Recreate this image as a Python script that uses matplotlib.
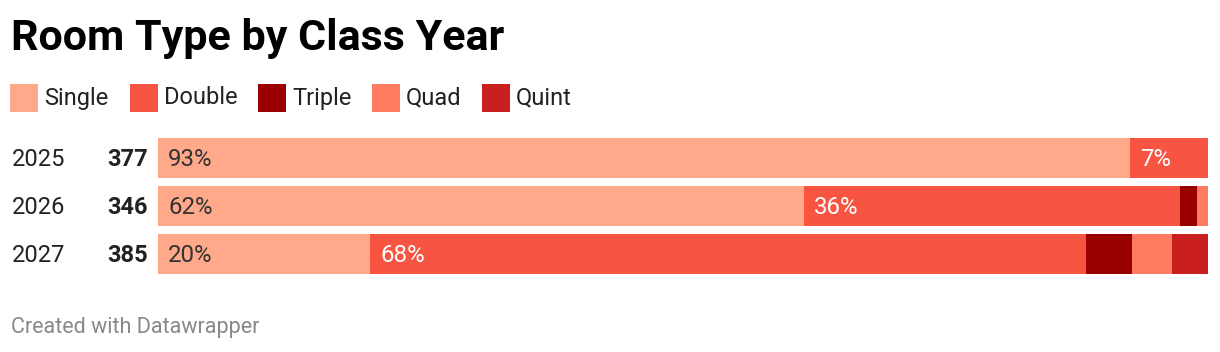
import matplotlib.pyplot as plt
import matplotlib.transforms as mtransforms
from matplotlib.patches import Rectangle
import numpy as np

plt.rcParams['font.family'] = ['Roboto', 'DejaVu Sans']

years = ['2025', '2026', '2027']
totals = [377, 346, 385]
room_types = ['Single', 'Double', 'Triple', 'Quad', 'Quint']
# percentages per class year
single = [92.6, 61.5, 20.2]
double = [7.4, 35.8, 68.2]
triple = [0.0, 1.7, 4.4]
quad = [0.0, 1.0, 3.8]
quint = [0.0, 0.0, 3.4]
series = [single, double, triple, quad, quint]

colors = ['#ffa88a', '#f75442', '#9a0000', '#ff7b62', '#c91f1f']
text_colors = ['#333333', '#ffffff', '#ffffff', '#ffffff', '#ffffff']

W, H = 1220, 352
fig = plt.figure(figsize=(W / 100, H / 100), dpi=100)

def fx(px):
    return px / W

def fy(py):
    return 1 - py / H

# title
fig.text(fx(11), fy(50), 'Room Type by Class Year', fontsize=31,
         fontweight='bold', color='#000000', va='baseline', ha='left')

# legend
sq_x = [10, 130, 258, 372, 482]
for name, c, x in zip(room_types, colors, sq_x):
    fig.patches.append(Rectangle((fx(x), fy(112)), fx(28), 28 / H,
                                 transform=fig.transFigure, color=c, lw=0))
    fig.text(fx(x + 34), fy(104.5), name, fontsize=17, color='#222222',
             va='baseline', ha='left')

# bars
ax = fig.add_axes([fx(158), fy(274), fx(1050), 136 / H])
ypos = np.arange(len(years))
bar_h = 40 / 48
left = np.zeros(len(years))
for vals, c, tc in zip(series, colors, text_colors):
    vals = np.array(vals)
    ax.barh(ypos, vals, left=left, height=bar_h, color=c, lw=0)
    for y, v, l in zip(ypos, vals, left):
        if v >= 5:
            ax.annotate(f'{v:.0f}%', (l, y), xytext=(7.2, -1),
                        textcoords='offset points', fontsize=17.3, color=tc,
                        va='center', ha='left')
    left += vals

ax.set_xlim(0, 100)
ax.set_ylim(2 + bar_h / 2, -bar_h / 2)
ax.axis('off')

trans = mtransforms.blended_transform_factory(fig.transFigure, ax.transData)
for y, yr, n in zip(ypos, years, totals):
    ax.annotate(yr, (fx(12), y), xycoords=trans, xytext=(0, -1),
                textcoords='offset points', fontsize=17, color='#222222',
                va='center', ha='left')
    ax.annotate(str(n), (fx(148), y), xycoords=trans, xytext=(0, -1),
                textcoords='offset points', fontsize=17, color='#222222',
                fontweight='bold', va='center', ha='right')

# footer
fig.text(fx(11), fy(333), 'Created with Datawrapper', fontsize=15.5,
         color='#888888', va='baseline', ha='left')

fig.savefig('out.png', dpi=100)
